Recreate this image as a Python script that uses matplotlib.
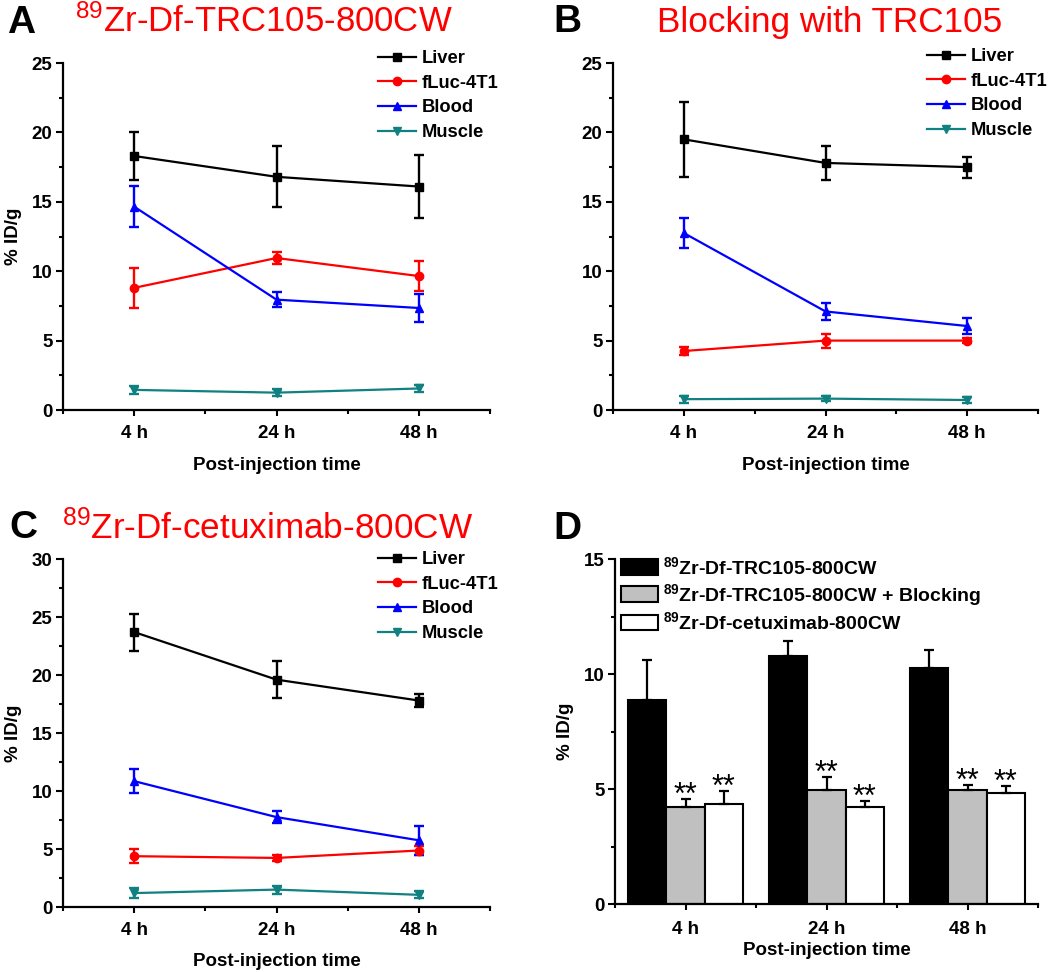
import numpy as np
import matplotlib
matplotlib.use("Agg")
import matplotlib.pyplot as plt
from matplotlib.ticker import MultipleLocator, FixedLocator
from matplotlib.lines import Line2D

plt.rcParams['font.family'] = ['Liberation Sans', 'DejaVu Sans']
plt.rcParams['mathtext.default'] = 'regular'

# ---------------- data ----------------
times = ['4 h', '24 h', '48 h']
series = ['Liver', 'fLuc-4T1', 'Blood', 'Muscle']

A_liver = [18.3, 16.8, 16.1];   A_liver_err = [1.7, 2.2, 2.25]
A_fluc = [8.8, 10.95, 9.65];    A_fluc_err = [1.45, 0.4, 1.05]
A_blood = [14.65, 7.95, 7.35];  A_blood_err = [1.5, 0.55, 1.0]
A_muscle = [1.45, 1.25, 1.55];  A_muscle_err = [0.3, 0.25, 0.25]

B_liver = [19.5, 17.8, 17.5];   B_liver_err = [2.7, 1.2, 0.75]
B_fluc = [4.25, 5.0, 5.0];      B_fluc_err = [0.3, 0.5, 0.2]
B_blood = [12.75, 7.1, 6.05];   B_blood_err = [1.05, 0.6, 0.6]
B_muscle = [0.78, 0.82, 0.72];  B_muscle_err = [0.25, 0.2, 0.25]

C_liver = [23.7, 19.6, 17.8];   C_liver_err = [1.6, 1.6, 0.6]
C_fluc = [4.38, 4.23, 4.87];    C_fluc_err = [0.6, 0.25, 0.35]
C_blood = [10.85, 7.75, 5.75];  C_blood_err = [1.05, 0.55, 1.25]
C_muscle = [1.2, 1.5, 1.05];    C_muscle_err = [0.4, 0.35, 0.3]

D_labels = [r'$^{89}$Zr-Df-TRC105-800CW',
            r'$^{89}$Zr-Df-TRC105-800CW + Blocking',
            r'$^{89}$Zr-Df-cetuximab-800CW']
D_trc = [8.87, 10.77, 10.28];   D_trc_err = [1.74, 0.65, 0.76]
D_block = [4.23, 4.97, 4.96];   D_block_err = [0.34, 0.54, 0.21]
D_cetux = [4.35, 4.20, 4.84];   D_cetux_err = [0.58, 0.29, 0.28]
D_sig_block = ['**', '**', '**']
D_sig_cetux = ['**', '**', '**']

titles = [r'$^{89}$Zr-Df-TRC105-800CW', 'Blocking with TRC105', r'$^{89}$Zr-Df-cetuximab-800CW']
panel_letters = ['A', 'B', 'C', 'D']

colors = ['#000000', '#ff0000', '#0000ff', '#108080']
markers = ['s', 'o', '^', 'v']

W, H = 1050, 972
fig = plt.figure(figsize=(W / 100, H / 100), dpi=100)

FS = 13.5


def px_axes(l, r, t, b):
    return fig.add_axes([l / W, 1 - b / H, (r - l) / W, (b - t) / H])


def style_axes(ax, ymax, xlab_off, ylab_x, xpad):
    for s in ['top', 'right']:
        ax.spines[s].set_visible(False)
    for s in ['left', 'bottom']:
        ax.spines[s].set_linewidth(1.6)
    ax.set_xlim(0.5, 3.5)
    ax.set_ylim(0, ymax)
    ax.xaxis.set_major_locator(FixedLocator([1, 2, 3]))
    ax.xaxis.set_minor_locator(FixedLocator([0.5, 1.5, 2.5, 3.5]))
    ax.set_xticklabels(times)
    ax.yaxis.set_major_locator(MultipleLocator(5))
    ax.yaxis.set_minor_locator(MultipleLocator(2.5))
    ax.tick_params(axis='x', which='major', direction='out', length=4.5, width=1.5,
                   labelsize=FS, pad=xpad)
    ax.tick_params(axis='y', which='major', direction='out', length=5, width=1.5,
                   labelsize=FS, pad=2.5)
    ax.tick_params(which='minor', direction='out', length=3, width=1.5)
    for lab in ax.get_xticklabels() + ax.get_yticklabels():
        lab.set_fontweight('bold')
    ax.set_xlabel('Post-injection time', fontsize=FS, fontweight='bold')
    ax.set_ylabel('% ID/g', fontsize=FS, fontweight='bold')
    ax.xaxis.set_label_coords(0.5, xlab_off)
    ax.yaxis.set_label_coords(ylab_x, 0.5)


def line_panel(ax, data, ymax, leg_anchor, xlab_off, ylab_x=-0.096):
    x = np.arange(1, len(times) + 1)
    for (vals, errs), name, c, m in zip(data, series, colors, markers):
        ax.errorbar(x, vals, yerr=errs, color=c, marker=m, markersize=6,
                    linewidth=1.6, elinewidth=1.7, capsize=3.6, capthick=1.7,
                    label=name)
    style_axes(ax, ymax, xlab_off, ylab_x, 6.5)
    hl = [Line2D([], [], color=c, marker=m, markersize=6, linewidth=1.6)
          for c, m in zip(colors, markers)]
    fig.legend(hl, series, loc='upper left',
               bbox_to_anchor=(leg_anchor[0] / W, 1 - leg_anchor[1] / H),
               bbox_transform=fig.transFigure, frameon=False, borderpad=0,
               borderaxespad=0, handlelength=2.05, handletextpad=0.35,
               labelspacing=0.42, prop={'size': 13.2, 'weight': 'bold'})


axA = px_axes(63, 490, 63, 410)
line_panel(axA, [(A_liver, A_liver_err), (A_fluc, A_fluc_err),
                 (A_blood, A_blood_err), (A_muscle, A_muscle_err)], 25, (378, 50), -0.1355)

axB = px_axes(613, 1038, 63, 410)
line_panel(axB, [(B_liver, B_liver_err), (B_fluc, B_fluc_err),
                 (B_blood, B_blood_err), (B_muscle, B_muscle_err)], 25, (927, 48), -0.1355)
axB.set_ylabel('')

axC = px_axes(63, 490, 559, 907)
line_panel(axC, [(C_liver, C_liver_err), (C_fluc, C_fluc_err),
                 (C_blood, C_blood_err), (C_muscle, C_muscle_err)], 30, (378, 551), -0.1325)

# ---- panel D bars ----
axD = px_axes(615, 1038, 559, 904)
x = np.arange(1, len(times) + 1)
bw = 0.27
bar_sets = [(D_trc, D_trc_err, '#000000'), (D_block, D_block_err, '#c0c0c0'),
            (D_cetux, D_cetux_err, '#ffffff')]
bars = []
for i, (vals, errs, fc) in enumerate(bar_sets):
    b = axD.bar(x + (i - 1) * bw, vals, width=bw, color=fc, edgecolor='black',
                linewidth=1.5, yerr=[np.zeros(len(errs)), errs],
                error_kw=dict(ecolor='black', elinewidth=1.6, capsize=3.6, capthick=1.6),
                label=D_labels[i])
    bars.append(b)
for i, (vals, errs, sig) in enumerate([(D_block, D_block_err, D_sig_block),
                                       (D_cetux, D_cetux_err, D_sig_cetux)]):
    for xi, v, e, s in zip(x, vals, errs, sig):
        axD.text(xi + i * bw, v + e - 0.52, s, ha='center', va='bottom',
                 fontsize=22, color='black')
style_axes(axD, 15, -0.110, -0.097, 7.5)
axD.legend(bars, D_labels, loc='upper left',
           bbox_to_anchor=(621 / W, 1 - 556 / H), bbox_transform=fig.transFigure,
           frameon=False, borderpad=0, borderaxespad=0, handlelength=1.9,
           handleheight=0.85, handletextpad=0.28, labelspacing=0.2,
           prop={'size': 14, 'weight': 'bold'})

# ---- titles & panel letters ----
fig.text(75 / W, 1 - 32 / H, titles[0], color='#ff0000', fontsize=25, va='baseline', ha='left')
fig.text(657 / W, 1 - 32 / H, titles[1], color='#ff0000', fontsize=25.3, va='baseline', ha='left')
fig.text(62 / W, 1 - 539 / H, titles[2], color='#ff0000', fontsize=25.3, va='baseline', ha='left')

for (lx, ly), letter in zip([(7, 33), (553, 32), (9, 538), (553, 539)], panel_letters):
    fig.text(lx / W, 1 - ly / H, letter, fontsize=28, fontweight='bold',
             va='baseline', ha='left')

fig.savefig('out.png', dpi=100)
